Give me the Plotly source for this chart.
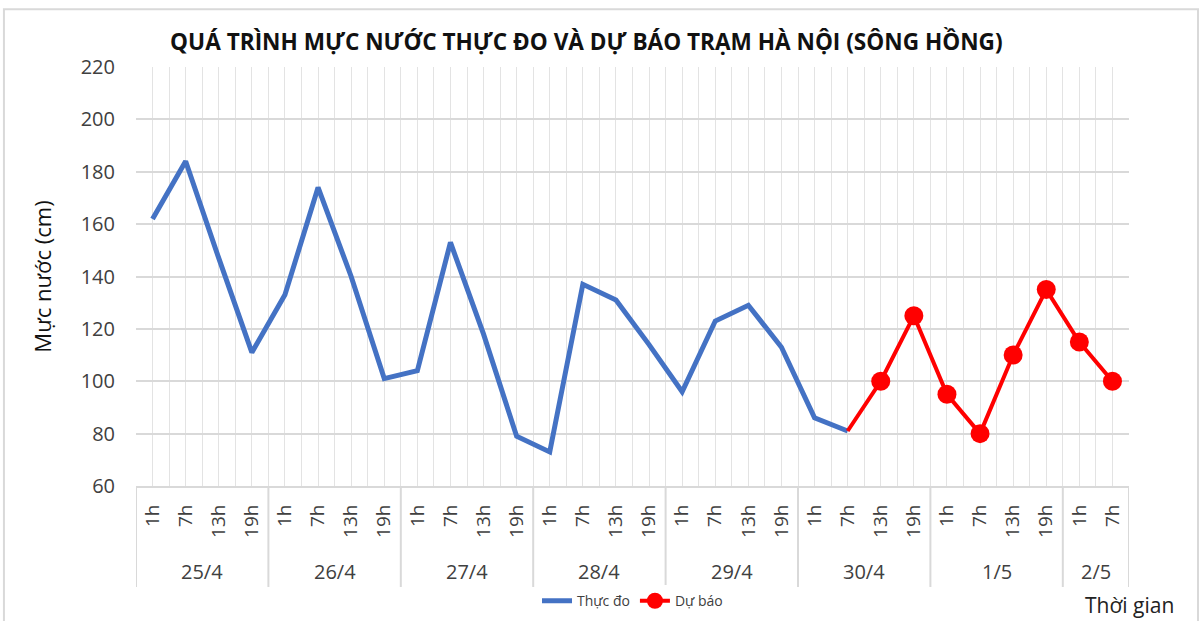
import plotly.graph_objects as go

days = ["25/4", "26/4", "27/4", "28/4", "29/4", "30/4", "1/5", "2/5"]
hours_per_day = [["1h", "7h", "13h", "19h"]] * 7 + [["1h", "7h"]]

observed = [162, 184, 147, 111,
            133, 174, 140, 101,
            104, 153, 118, 79,
            73, 137, 131, 114,
            96, 123, 129, 113,
            86, 81]
forecast = [81, 100, 125, 95, 80, 110, 135, 115, 100]  # starts at 30/4 7h

y_ticks = [60, 80, 100, 120, 140, 160, 180, 200, 220]

# flatten categories
hour_labels = [h for hs in hours_per_day for h in hs]
n = len(hour_labels)
idx = list(range(n))

obs_x = idx[:len(observed)]
fc_start = len(observed) - 1
fc_x = idx[fc_start:fc_start + len(forecast)]

font = "Open Sans"
fig = go.Figure()
fig.add_trace(go.Scatter(x=obs_x, y=observed, mode="lines", name="Thực đo",
                         line=dict(color="#4472C4", width=5)))
fig.add_trace(go.Scatter(x=fc_x, y=forecast, mode="lines+markers", name="Dự báo",
                         line=dict(color="#FF0000", width=4),
                         marker=dict(color="#FF0000", opacity=1, line=dict(width=0),
                                     size=[0] + [19] * (len(forecast) - 1))))

# day separators and labels
shapes = []
annotations = []
start = 0
bounds = [-0.5]
for d, hs in zip(days, hours_per_day):
    end = start + len(hs)
    bounds.append(end - 0.5)
    annotations.append(dict(x=(start + end - 1) / 2, y=-0.205, xref="x", yref="paper",
                            text=d, showarrow=False,
                            font=dict(family=font, size=20, color="#404040"),
                            yanchor="middle"))
    start = end
for b in bounds:
    shapes.append(dict(type="line", xref="x", yref="paper", x0=b, x1=b, y0=0, y1=-0.241,
                       line=dict(color="#d9d9d9", width=2)))

# outer frame
shapes.append(dict(type="rect", xref="paper", yref="paper",
                   x0=-0.133, x1=1.0695, y0=-0.34, y1=1.138,
                   line=dict(color="#d9d9d9", width=2)))

annotations.append(dict(x=1.001, y=-0.284, xref="paper", yref="paper", text="Thời gian",
                        showarrow=False, xanchor="center", yanchor="middle",
                        font=dict(family=font, size=21, color="#222")))

fig.update_layout(
    width=1204, height=621,
    paper_bgcolor="white", plot_bgcolor="white",
    margin=dict(l=136, r=75, t=67, b=135, autoexpand=False),
    title=dict(text="<b>QUÁ TRÌNH MỰC NƯỚC THỰC ĐO VÀ DỰ BÁO TRẠM HÀ NỘI (SÔNG HỒNG)</b>",
               x=0.487, xanchor="center", y=0.932, yanchor="middle",
               font=dict(family=font, size=22.6, color="#111")),
    shapes=shapes,
    annotations=annotations,
    showlegend=True,
    legend=dict(orientation="h", x=0.5, xanchor="center", y=0.032, yref="container",
                yanchor="middle",
                font=dict(family=font, size=14, color="#404040")),
    xaxis=dict(range=[-0.5, n - 0.5], tickvals=idx, ticktext=hour_labels,
               tickangle=-90, showgrid=True, gridcolor="#e3e3e3", gridwidth=1,
               minor=dict(tick0=-0.5, dtick=1, showgrid=True, gridcolor="#e3e3e3", gridwidth=1),
               showline=True, linecolor="#d9d9d9", linewidth=2,
               ticks="", zeroline=False, ticklabelstandoff=9,
               tickfont=dict(family=font, size=19, color="#404040")),
    yaxis=dict(range=[60, 220], tickvals=y_ticks, showgrid=True,
               gridcolor="#d9d9d9", gridwidth=1.5, zeroline=False,
               ticks="", showline=False, ticklabelstandoff=20,
               tickfont=dict(family=font, size=20, color="#404040"),
               title=dict(text="Mực nước (cm)", standoff=22,
                          font=dict(family=font, size=22, color="#111"))),
)

fig.write_html("out.html", config={"displayModeBar": False},
               post_script="document.body.style.margin='0';")
